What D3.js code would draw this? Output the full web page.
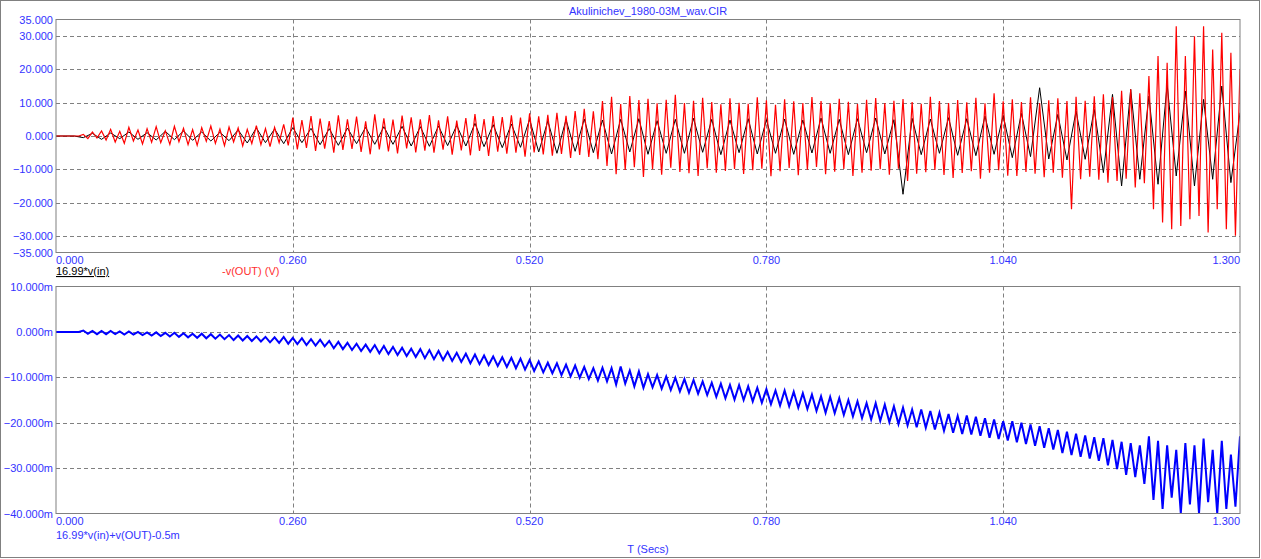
<!DOCTYPE html>
<html><head><meta charset="utf-8">
<script src="https://cdn.jsdelivr.net/npm/d3@7"></script>
<style>body{margin:0;background:#fff}svg{display:block;font-family:"Liberation Sans",Arial,sans-serif}</style>
</head><body><svg id="c" width="1261" height="559"></svg>
<script>
const title = "Akulinichev_1980-03M_wav.CIR";
const xTicks = [0, 0.26, 0.52, 0.78, 1.04, 1.3];
const topTicks = [35, 30, 20, 10, 0, -10, -20, -30, -35];
const botTicks = [10, 0, -10, -20, -30, -40];
const redDt = 0.005;
const redOut = [
0,0,0,0,0,0,0.5,-0.8,1.2,-0.6,
1.5,-1.2,2.0,-1.8,1.4,-2.2,2.6,-1.5,1.8,-2.4,
2.2,-1.9,2.8,-2.0,1.6,-2.5,2.9,-1.7,2.3,-2.6,
1.9,-2.8,2.5,-1.6,3.0,-2.2,2.1,-2.9,2.7,-1.8,
2.4,-3.0,2.0,-2.3,3.1,-2.6,2.2,-3.2,2.6,-2.0,
3.5,-2.8,5.5,-4.0,4.8,-3.6,6.0,-4.5,5.2,-3.8,
4.5,-5.0,6.2,-4.2,5.0,-3.9,5.8,-4.8,4.4,-5.5,
6.5,-4.0,5.3,-4.6,4.9,-5.2,6.1,-3.7,5.6,-4.9,
5.0,-4.4,6.3,-5.0,4.7,-4.1,5.9,-5.6,4.6,-4.3,
5.4,-5.8,6.6,-4.5,5.1,-6.0,6.0,-4.7,5.7,-5.3,
6.2,-5.0,5.5,-6.2,6.8,-4.9,5.9,-5.5,6.4,-5.9,
7.0,-5.4,6.1,-6.6,7.5,-5.7,8.2,-6.3,7.4,-7.0,
10.5,-9.0,11.8,-11.5,9.6,-10.2,12.0,-9.4,10.8,-12.3,
11.2,-10.0,9.8,-11.6,10.9,-9.5,12.4,-10.8,9.9,-11.2,
10.6,-12.0,11.5,-9.7,10.2,-11.0,9.5,-10.5,11.3,-9.9,
10.0,-11.4,9.7,-10.3,11.6,-9.8,10.7,-12.1,9.4,-10.6,
11.0,-9.6,10.4,-11.8,9.9,-10.1,11.7,-9.3,10.5,-11.5,
9.8,-10.7,11.2,-9.9,10.3,-12.0,9.6,-11.0,10.9,-10.4,
11.4,-10.0,9.9,-11.6,10.6,-9.8,11.1,-13.5,10.2,-11.3,
9.7,-10.9,11.8,-10.2,10.5,-11.7,9.9,-12.6,10.8,-11.1,
10.1,-10.6,11.5,-12.8,9.8,-11.0,12.8,-10.3,10.4,-11.9,
11.0,-12.0,10.2,-10.8,11.6,-11.3,9.9,-12.4,10.7,-11.0,
11.3,-12.5,10.5,-22.0,11.8,-13.0,10.6,-12.2,11.9,-13.1,
12.5,-14.0,11.7,-13.5,13.6,-12.8,14.0,-15.5,12.8,-14.2,
18.0,-22.0,24.0,-26.0,22.0,-28.0,33.0,-27.0,24.0,-25.0,
30.0,-24.0,33.0,-29.0,26.0,-22.0,31.0,-28.0,25.0,-30.0,20.0];
const blackDt = 0.01;
const blackIn = [
0,0,0,-0.5,0.8,-1,0.9,-0.8,1.2,-1,
1,-1.2,1.4,-1.1,1.5,-1.3,1.2,-1.5,1.1,-1.4,
1.8,-2.1,2.4,-2.0,2.1,-2.3,2.5,-2.0,2.3,-2.6,
2.2,-2.8,2.4,-2.3,2.6,-2.5,2.8,-2.5,2.9,-3,
2.8,-3.1,3,-2.9,3.2,-3,3.8,-3.2,3.4,-3.5,
3.6,-3.4,5,-4.8,4.5,-5.2,4.9,-4.6,5.1,-5,
4.8,-5.4,5,-4.8,5.2,-5.5,4.6,-5.2,5,-5.2,
5.3,-4.9,5,-5.6,4.8,-5,5.2,-5.4,4.9,-5.2,
5.1,-5.5,4.8,-5.1,5.4,-5.2,5,-5.6,5.2,-5,
5.4,-5.4,4.9,-17.5,5.3,-5.6,5.1,-5.2,5.5,-5.8,
5.2,-5.9,6,-5.5,6.2,-6.5,6.8,-6.2,14.5,-6.9,
6.5,-7.2,7.5,-7,8,-11,12.5,-15,14,-13,
12,-14.5,15.5,-12,13.5,-15,11,-13,15,-14,
7];
const blueDt = 0.005;
const blueErr = [
0,0,0,0,0,0,0.3,-0.4,0.2,-0.5,
0.2,-0.5,0.2,-0.5,0.1,-0.6,0.1,-0.6,0,-0.7,
-0.1,-0.8,-0.1,-0.9,-0.2,-1.0,-0.2,-1.1,-0.3,-1.2,
-0.4,-1.3,-0.4,-1.4,-0.5,-1.5,-0.6,-1.6,-0.7,-1.8,
-0.8,-1.9,-0.9,-2.0,-1.0,-2.1,-1.1,-2.3,-1.2,-2.4,
-1.1,-2.6,-1.3,-2.7,-1.4,-2.9,-1.6,-3.0,-1.7,-3.2,
-2.0,-3.6,-2.2,-3.8,-2.4,-4.0,-2.6,-4.2,-2.8,-4.4,
-2.9,-4.7,-3.1,-4.9,-3.3,-5.1,-3.5,-5.3,-3.7,-5.5,
-3.8,-5.8,-4.0,-6.0,-4.2,-6.2,-4.4,-6.4,-4.6,-6.6,
-4.8,-6.9,-5.0,-7.1,-5.2,-7.3,-5.4,-7.5,-5.6,-7.7,
-5.7,-8.0,-5.9,-8.3,-6.2,-8.6,-6.5,-8.9,-6.8,-9.1,
-6.9,-9.5,-7.2,-9.8,-7.4,-10.1,-7.7,-10.4,-8.0,-10.7,
-7.9,-10.9,-8.0,-11.6,-7.6,-11.4,-8.5,-12.0,-8.7,-12.3,
-9.3,-12.2,-9.5,-12.5,-9.8,-12.8,-10.1,-13.1,-10.4,-13.4,
-10.6,-13.6,-10.9,-13.9,-11.2,-14.3,-11.4,-14.6,-11.7,-14.9,
-11.7,-15.0,-12.0,-15.3,-12.3,-15.6,-12.6,-15.9,-12.9,-16.2,
-12.9,-16.4,-13.2,-16.7,-13.5,-17.0,-13.8,-17.4,-14.2,-17.8,
-14.3,-17.9,-14.6,-18.3,-15.0,-18.6,-15.3,-19.0,-15.7,-19.3,
-15.7,-19.6,-16.0,-19.9,-16.4,-20.3,-16.7,-20.6,-17.1,-21.0,
-17.1,-21.1,-17.4,-21.5,-17.8,-21.8,-18.1,-22.2,-18.5,-22.5,
-18.4,-22.6,-18.7,-22.9,-19.0,-23.3,-19.3,-23.6,-19.7,-23.9,
-19.7,-24.3,-20.0,-24.7,-20.4,-25.1,-20.8,-25.5,-21.2,-25.9,
-21.6,-26.7,-22.0,-27.1,-22.4,-27.5,-22.8,-27.9,-23.2,-28.4,
-23.4,-29.4,-23.8,-30.2,-24.2,-31.5,-24.5,-32.0,-25.0,-33.5,
-23.0,-37.0,-24.0,-39.0,-25.0,-36.5,-26.0,-40.0,-24.5,-38.0,
-25.0,-40.0,-23.5,-37.5,-26.0,-40.0,-24.0,-39.0,-27.0,-38.5,-23.0];

const svg = d3.select("#c");
const blue = "#3333ff", grid = "#808080";
svg.append("rect").attr("x",0.5).attr("y",0.5).attr("width",1259).attr("height",557).attr("fill","none").attr("stroke","#808080");
const x = d3.scaleLinear().domain([0,1.3]).range([56,1240]);
const yT = d3.scaleLinear().domain([-35,35]).range([252.5,19.5]);
const yB = d3.scaleLinear().domain([-40,10]).range([513.5,286.5]);

function panel(y, ticks, fmt, id){
  const [y0,y1] = y.range();
  svg.append("clipPath").attr("id",id).append("rect").attr("x",56).attr("y",y1).attr("width",1184).attr("height",y0-y1);
  const g = svg.append("g");
  ticks.slice(1,-1).forEach(t=>g.append("line").attr("x1",56).attr("x2",1240).attr("y1",Math.round(y(t))+0.5).attr("y2",Math.round(y(t))+0.5).attr("stroke",grid).attr("stroke-dasharray","4,3"));
  xTicks.slice(1,-1).forEach(t=>g.append("line").attr("x1",Math.round(x(t))+0.5).attr("x2",Math.round(x(t))+0.5).attr("y1",y1).attr("y2",y0).attr("stroke",grid).attr("stroke-dasharray","4,3"));
  ticks.forEach(t=>g.append("text").attr("x",53).attr("y",y(t)+4).attr("text-anchor","end").attr("font-size",11).attr("fill",blue).text(fmt(t)));
  xTicks.forEach((t,i)=>g.append("text").attr("x",x(t)).attr("y",y0+11).attr("text-anchor",i==0?"start":i==xTicks.length-1?"end":"middle").attr("font-size",11).attr("fill",blue).text(d3.format(".3f")(t)));
  return g;
}
const gT = panel(yT, topTicks, d3.format(".3f"), "cT");
const gB = panel(yB, botTicks, d=>d3.format(".3f")(d)+"m", "cB");

function series(g, data, dt, y, color, w, clip){
  g.append("path").attr("clip-path",`url(#${clip})`)
   .attr("d", d3.line().x((d,i)=>x(i*dt)).y(d=>y(d))(data))
   .attr("fill","none").attr("stroke",color).attr("stroke-width",w);
}
series(gT, blackIn, blackDt, yT, "#000", 1, "cT");
series(gT, redOut, redDt, yT, "#ff0000", 1.2, "cT");
series(gB, blueErr, blueDt, yB, "#0000ff", 2, "cB");

[yT,yB].forEach(y=>{const [y0,y1]=y.range();
  svg.append("rect").attr("x",56).attr("y",y1).attr("width",1184).attr("height",y0-y1).attr("fill","none").attr("stroke","#808080");});

svg.append("text").attr("x",648).attr("y",15).attr("text-anchor","middle").attr("font-size",11).attr("fill",blue).text(title);
svg.append("text").attr("x",56).attr("y",275).attr("font-size",11).attr("fill","#000").attr("text-decoration","underline").text("16.99*v(in)");
svg.append("text").attr("x",222).attr("y",275).attr("font-size",11).attr("fill","#ff3030").text("-v(OUT) (V)");
svg.append("text").attr("x",56).attr("y",539).attr("font-size",11).attr("fill",blue).text("16.99*v(in)+v(OUT)-0.5m");
svg.append("text").attr("x",648).attr("y",553).attr("text-anchor","middle").attr("font-size",11).attr("fill",blue).text("T (Secs)");
</script></body></html>
